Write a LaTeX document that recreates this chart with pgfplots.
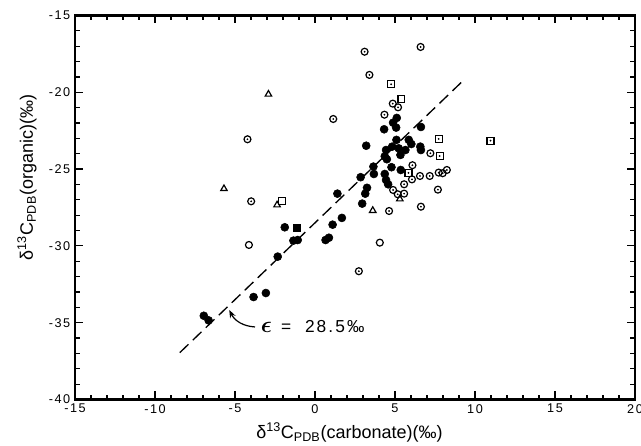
\documentclass[border=0pt]{standalone}
\usepackage{fontspec}
\setmainfont{Liberation Sans}
\newfontfamily\widefont[LetterSpace=12]{Liberation Sans}
\usepackage{pgfplots}
\usepackage{pgfplotstable}
\pgfplotsset{compat=1.18}
\usetikzlibrary{arrows.meta}

% filled circles
\pgfplotstableread{
x y
-6.95 -34.55
-6.65 -34.85
-3.84 -33.33
-3.07 -33.07
-2.33 -30.70
-1.89 -28.79
-1.35 -29.66
-1.08 -29.62
0.66 -29.62
0.87 -29.47
1.10 -28.62
1.68 -28.18
1.40 -26.60
2.95 -27.25
3.14 -26.60
3.25 -26.22
2.85 -25.53
3.65 -24.84
3.68 -25.32
3.20 -23.48
4.32 -22.41
4.88 -21.98
5.11 -21.67
5.07 -22.30
6.62 -22.26
5.09 -23.10
5.86 -23.10
4.44 -23.76
4.82 -23.54
5.65 -23.76
6.02 -23.37
5.23 -23.65
6.58 -23.54
6.62 -23.76
4.36 -24.17
4.49 -24.36
5.34 -24.08
4.78 -24.88
5.36 -25.06
4.36 -25.32
4.44 -25.71
4.57 -25.99
}\filledc

% open circles with centre dot
\pgfplotstableread{
x y
1.14 -21.74
-4.22 -23.06
-3.99 -27.10
3.10 -17.36
6.60 -17.05
3.40 -18.87
4.86 -20.74
5.19 -20.98
4.34 -21.46
7.21 -23.97
6.09 -24.75
6.56 -25.45
6.06 -25.67
7.17 -25.45
7.73 -25.23
7.98 -25.27
8.24 -25.06
5.57 -25.99
4.88 -26.36
5.17 -26.64
5.57 -26.60
7.68 -26.34
4.63 -27.73
6.62 -27.45
2.74 -31.65
}\opendot

\pgfplotstableread{
x y
-4.13 -29.94
4.05 -29.79
}\openplain

\pgfplotstableread{
x y
4.76 -19.48
7.73 -23.04
10.97 -23.15
7.79 -24.15
5.84 -25.25
}\sqdot

\pgfplotstableread{
x y
-2.08 -27.10
5.40 -20.46
}\sqplain

\pgfplotstableread{
x y
-2.91 -20.13
-5.69 -26.28
-2.37 -27.34
3.61 -27.70
5.30 -26.95
}\tri

\begin{document}
\begin{tikzpicture}
\begin{axis}[
  scale only axis, width=420pt, height=288pt,
  xmin=-15, xmax=20, ymin=-40, ymax=-15,
  xtick={-15,-10,...,20}, ytick={-40,-35,...,-15},
  minor x tick num=4, minor y tick num=4,
  tick align=inside, xtick pos=both, ytick pos=both,
  xticklabel pos=lower, yticklabel pos=left,
  major tick length=6pt, minor tick length=3.5pt,
  every tick/.style={black, line width=0.9pt},
  axis line style={line width=1.6pt},
  ticklabel style={font=\widefont\fontsize{9.5}{10}\selectfont},
  /pgf/number format/assume math mode=true,
  clip=false,
  xlabel={δ\textsuperscript{13}C\textsubscript{PDB}(carbonate)(‰)},
  ylabel={δ\textsuperscript{13}C\textsubscript{PDB}(organic)(‰)},
  every axis x label/.style={at={(axis description cs:0.49,0)}, anchor=base, yshift=-29pt, font=\fontsize{13.5}{15}\selectfont},
  every axis y label/.style={at={(axis description cs:0,0.578)}, xshift=-31.5pt, rotate=90, anchor=base, font=\fontsize{13.5}{15}\selectfont},
]
\addplot[black, line width=1pt, dash pattern=on 9pt off 4.5pt] coordinates {(-8.45,-36.95) (9.35,-19.15)};
\addplot[only marks, mark=*, mark size=3pt, black] table {\filledc};
\addplot[only marks, mark=square*, mark size=2.8pt, black] coordinates {(-1.14,-28.81)};
\addplot[only marks, mark=o, mark size=2.6pt, black, mark options={fill=white, line width=0.9pt}] table {\opendot};
\addplot[only marks, mark=*, mark size=0.45pt, black] table {\opendot};
\addplot[only marks, mark=o, mark size=2.6pt, black, mark options={fill=white, line width=0.9pt}] table {\openplain};
\addplot[only marks, mark=square, mark size=2.6pt, black, mark options={fill=white, line width=0.9pt}] table {\sqdot};
\addplot[only marks, mark=*, mark size=0.45pt, black] table {\sqdot};
\addplot[only marks, mark=square, mark size=2.6pt, black, mark options={fill=white, line width=0.9pt}] table {\sqplain};
\addplot[only marks, mark=triangle, mark size=2.8pt, black, mark options={fill=white, line width=0.9pt}] table {\tri};
\node[anchor=base west, inner sep=0pt] at (axis cs:-3.4,-35.67) {{\fontsize{19}{19}\selectfont\boldmath$\epsilon$}\,{\widefont\fontsize{13}{15}\selectfont\ =\ \ 28.5‰}};
\draw[line width=0.9pt, -{Stealth[length=6pt,width=4.5pt]}] (axis cs:-3.75,-35.28) to[bend left=30] (axis cs:-5.36,-34.17);
\end{axis}
\pgfresetboundingbox
\path[use as bounding box] (-56.25pt,-34.5pt) rectangle (424.5pt,299.6pt);
\end{tikzpicture}
\end{document}
